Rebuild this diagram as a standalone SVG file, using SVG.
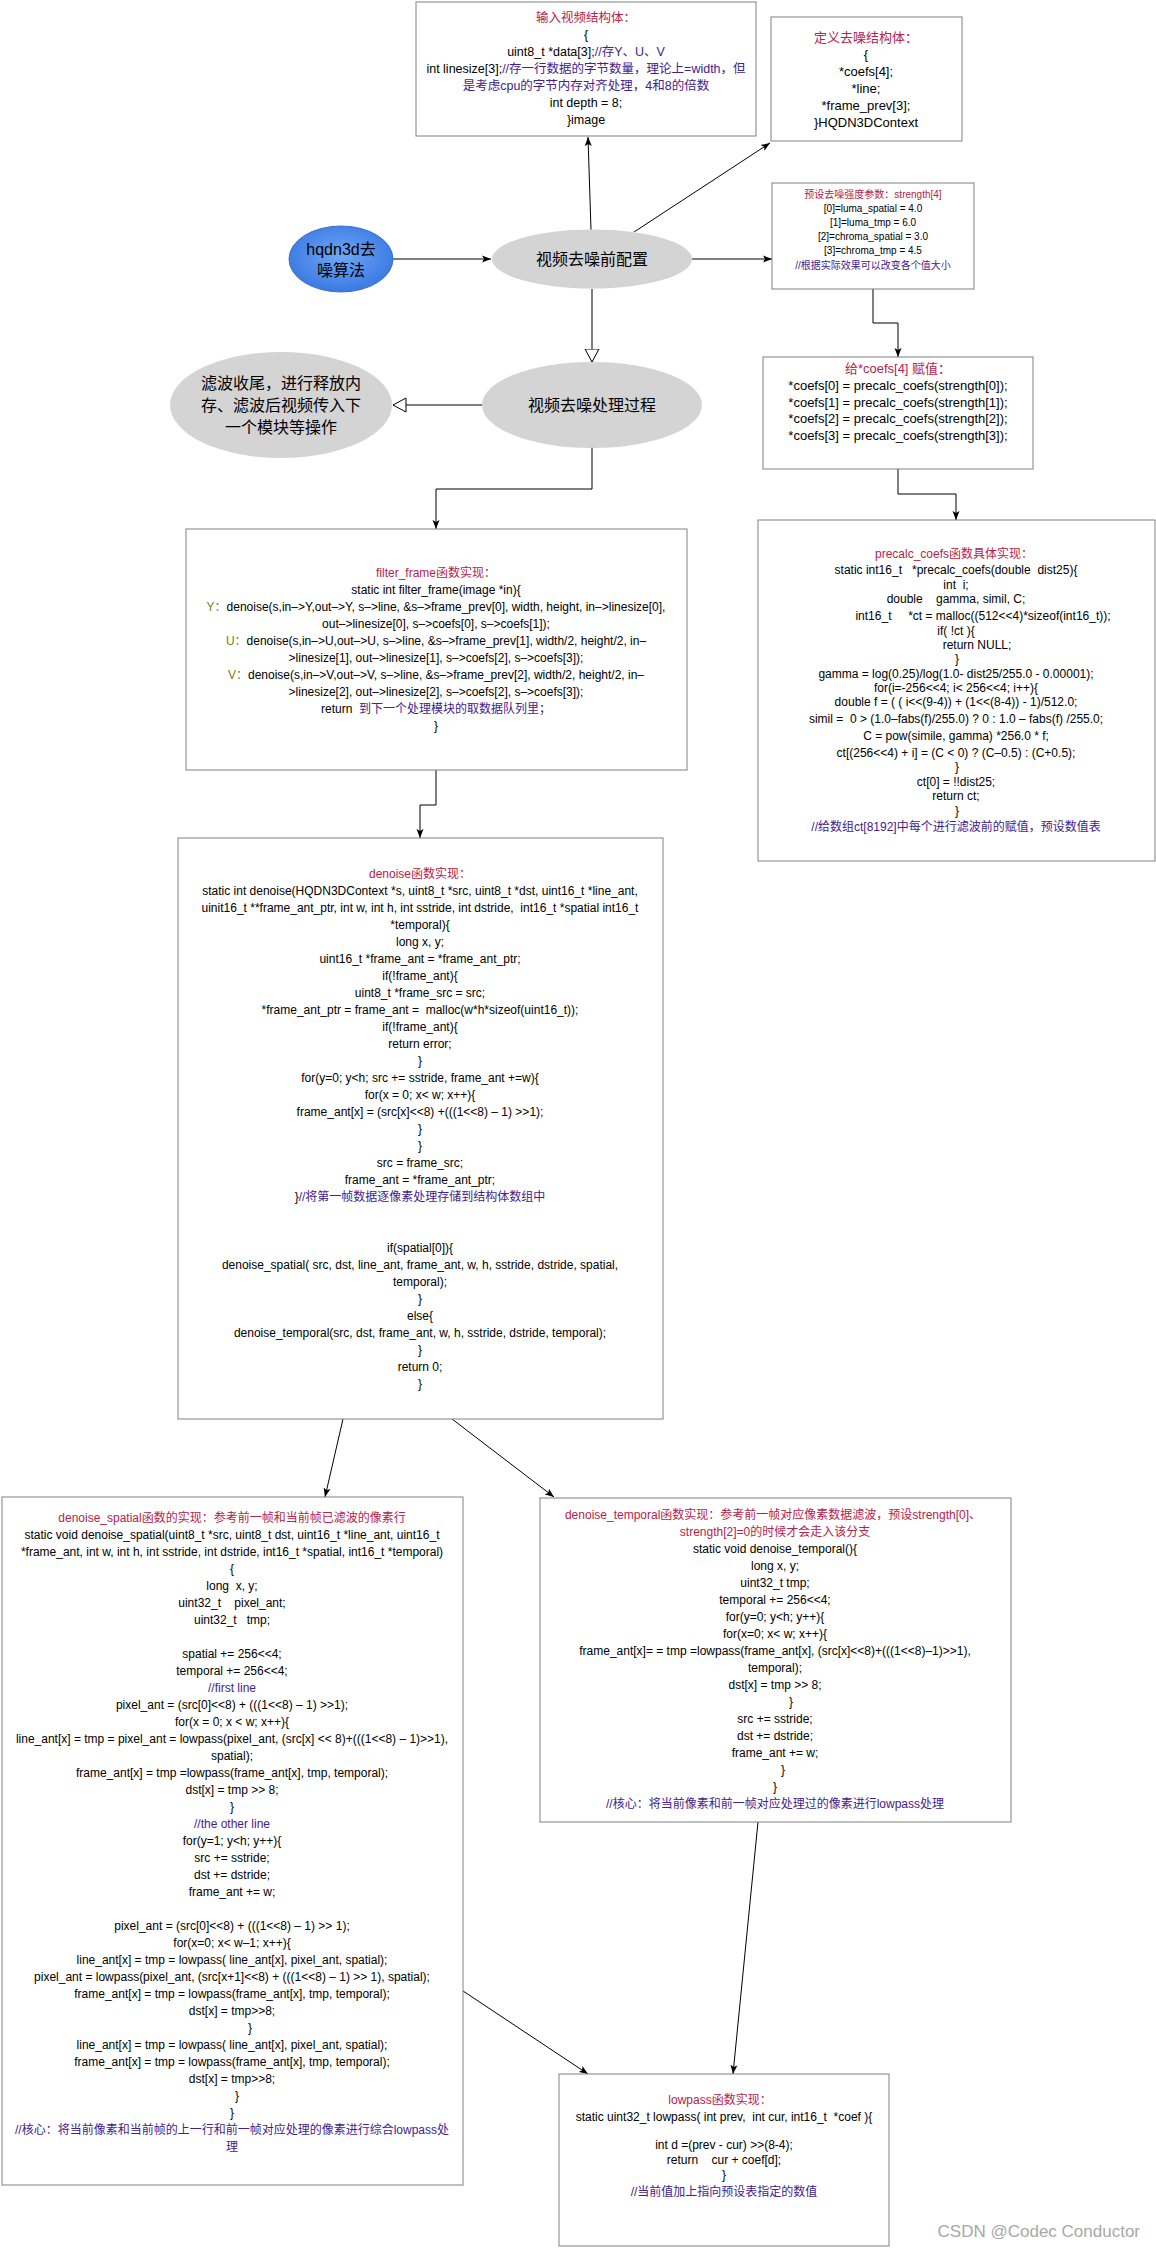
<svg xmlns="http://www.w3.org/2000/svg" width="1156" height="2248" viewBox="0 0 1156 2248">
<style>
.bg{fill:#fff}
.box{fill:#fff;stroke:#808080;stroke-width:1}
.ell{fill:#d4d4d4;stroke:none}
.t{font-family:"Liberation Sans","Noto Sans CJK SC",sans-serif;font-size:12px;text-anchor:middle;fill:#000;white-space:pre}
.s13{font-size:13px}
.s125{font-size:12.5px}
.s10{font-size:10px}
.big{font-size:16px}
.ti{fill:#b8214a}
.cm{fill:#43218f}
.ol{fill:#7b7b14}
.edge{stroke:#000;stroke-width:1;fill:none}
.wm{font-family:"Liberation Sans","Noto Sans",sans-serif;font-size:17px;fill:#a8a8a8;text-anchor:end}
</style>
<defs>
<marker id="arr" markerUnits="userSpaceOnUse" markerWidth="10" markerHeight="8" refX="9" refY="4" orient="auto">
<path d="M0,0.5 L9,4 L0,7.5 L2,4 z" fill="#000"/>
</marker>
<marker id="hol" markerUnits="userSpaceOnUse" markerWidth="16" markerHeight="16" refX="13.5" refY="7.5" orient="auto">
<path d="M0.5,0.5 L13.5,7.5 L0.5,14.5 z" fill="#fff" stroke="#000" stroke-width="1"/>
</marker>
<radialGradient id="blue" cx="50%" cy="45%" r="60%">
<stop offset="0" stop-color="#6ea8f7"/>
<stop offset="1" stop-color="#3675e0"/>
</radialGradient>
</defs>
<rect class="bg" x="0" y="0" width="1156" height="2248"/>

<g id="connectors">
<path class="edge" d="M393,259 L491,259" marker-end="url(#arr)"/>
<path class="edge" d="M591,230 L588,137" marker-end="url(#arr)"/>
<path class="edge" d="M634,232 L770,143" marker-end="url(#arr)"/>
<path class="edge" d="M692,259 L772,259" marker-end="url(#arr)"/>
<path class="edge" d="M873,289 V323 H898 V357" marker-end="url(#arr)"/>
<path class="edge" d="M592,289 V362" marker-end="url(#hol)"/>
<path class="edge" d="M482,405 H393" marker-end="url(#hol)"/>
<path class="edge" d="M592,448 V489 H436 V529" marker-end="url(#arr)"/>
<path class="edge" d="M898,469 V494 H956 V520" marker-end="url(#arr)"/>
<path class="edge" d="M436,770 V805 H420 V838" marker-end="url(#arr)"/>
<path class="edge" d="M343,1419 L325,1497" marker-end="url(#arr)"/>
<path class="edge" d="M452,1419 L554,1497" marker-end="url(#arr)"/>
<path class="edge" d="M758,1822 L733,2074" marker-end="url(#arr)"/>
<path class="edge" d="M463,1991 L588,2074" marker-end="url(#arr)"/>
</g>

<g id="input-struct">
<rect class="box" x="416" y="2" width="340" height="134"/>
<text class="t s125 ti" x="586" y="22">输入视频结构体：</text>
<text class="t s125" x="586" y="39">{</text>
<text class="t s125" x="586" y="56">uint8_t *data[3];<tspan class="cm">//存Y、U、V</tspan></text>
<text class="t s125" x="586" y="73">int linesize[3];<tspan class="cm">//存一行数据的字节数量，理论上=width，但</tspan></text>
<text class="t s125 cm" x="586" y="90">是考虑cpu的字节内存对齐处理，4和8的倍数</text>
<text class="t s125" x="586" y="107">int depth = 8;</text>
<text class="t s125" x="586" y="124">}image</text>
</g>

<g id="define-struct">
<rect class="box" x="771" y="17" width="191" height="124"/>
<text class="t s13 ti" x="866" y="42">定义去噪结构体：</text>
<text class="t s13" x="866" y="59">{</text>
<text class="t s13" x="866" y="76">*coefs[4];</text>
<text class="t s13" x="866" y="93">*line;</text>
<text class="t s13" x="866" y="110">*frame_prev[3];</text>
<text class="t s13" x="866" y="127">}HQDN3DContext</text>
</g>

<g id="hqdn3d">
<ellipse cx="341" cy="259" rx="52" ry="33" fill="url(#blue)" stroke="#3e6fcf" stroke-width="1"/>
<text class="t big" x="341" y="255" fill="#14204a">hqdn3d去</text>
<text class="t big" x="341" y="276" fill="#14204a">噪算法</text>
</g>

<g id="config">
<ellipse class="ell" cx="592" cy="259" rx="100" ry="29.5"/>
<text class="t big" x="592" y="265">视频去噪前配置</text>
</g>

<g id="strength">
<rect class="box" x="772" y="183" width="202" height="106"/>
<text class="t s10 ti" x="873" y="197.5">预设去噪强度参数：strength[4]</text>
<text class="t s10" x="873" y="212">[0]=luma_spatial = 4.0</text>
<text class="t s10" x="873" y="226">[1]=luma_tmp = 6.0</text>
<text class="t s10" x="873" y="240">[2]=chroma_spatial = 3.0</text>
<text class="t s10" x="873" y="254">[3]=chroma_tmp = 4.5</text>
<text class="t s10 cm" x="873" y="268.5">//根据实际效果可以改变各个值大小</text>
</g>

<g id="process">
<ellipse class="ell" cx="592" cy="405" rx="110" ry="43"/>
<text class="t big" x="592" y="411">视频去噪处理过程</text>
</g>

<g id="finish">
<ellipse class="ell" cx="281" cy="405" rx="111" ry="53"/>
<text class="t big" x="281" y="389">滤波收尾，进行释放内</text>
<text class="t big" x="281" y="411">存、滤波后视频传入下</text>
<text class="t big" x="281" y="433">一个模块等操作</text>
</g>

<g id="coefs">
<rect class="box" x="763" y="357" width="270" height="112"/>
<text class="t s13 ti" x="898" y="372.5">给*coefs[4] 赋值：</text>
<text class="t s13" x="898" y="389.5">*coefs[0] = precalc_coefs(strength[0]);</text>
<text class="t s13" x="898" y="406.5">*coefs[1] = precalc_coefs(strength[1]);</text>
<text class="t s13" x="898" y="423">*coefs[2] = precalc_coefs(strength[2]);</text>
<text class="t s13" x="898" y="440">*coefs[3] = precalc_coefs(strength[3]);</text>
</g>

<g id="filter-frame">
<rect class="box" x="186" y="529" width="501" height="241"/>
<text class="t ti" x="436" y="577">filter_frame函数实现：</text>
<text class="t" x="436" y="594">static int filter_frame(image *in){</text>
<text class="t" x="436" y="611"><tspan class="ol">Y：</tspan>denoise(s,in–&gt;Y,out–&gt;Y, s–&gt;line, &amp;s–&gt;frame_prev[0], width, height, in–&gt;linesize[0],</text>
<text class="t" x="436" y="628">out–&gt;linesize[0], s–&gt;coefs[0], s–&gt;coefs[1]);</text>
<text class="t" x="436" y="645"><tspan class="ol">U：</tspan>denoise(s,in–&gt;U,out–&gt;U, s–&gt;line, &amp;s–&gt;frame_prev[1], width/2, height/2, in–</text>
<text class="t" x="436" y="662">&gt;linesize[1], out–&gt;linesize[1], s–&gt;coefs[2], s–&gt;coefs[3]);</text>
<text class="t" x="436" y="679"><tspan class="ol">V：</tspan>denoise(s,in–&gt;V,out–&gt;V, s–&gt;line, &amp;s–&gt;frame_prev[2], width/2, height/2, in–</text>
<text class="t" x="436" y="696">&gt;linesize[2], out–&gt;linesize[2], s–&gt;coefs[2], s–&gt;coefs[3]);</text>
<text class="t" x="436" y="713">return  <tspan class="cm">到下一个处理模块的取数据队列里；</tspan></text>
<text class="t" x="436" y="730">}</text>
</g>

<g id="precalc">
<rect class="box" x="758" y="520" width="397" height="341"/>
<text class="t ti" x="954" y="558">precalc_coefs函数具体实现：</text>
<text class="t" x="956" y="574">static int16_t   *precalc_coefs(double  dist25){</text>
<text class="t" x="956" y="589">int  i;</text>
<text class="t" x="956" y="603">double    gamma, simil, C;</text>
<text class="t" x="983" y="620">int16_t     *ct = malloc((512&lt;&lt;4)*sizeof(int16_t));</text>
<text class="t" x="956" y="635">if( !ct ){</text>
<text class="t" x="977" y="649">return NULL;</text>
<text class="t" x="957" y="663">}</text>
<text class="t" x="956" y="678">gamma = log(0.25)/log(1.0- dist25/255.0 - 0.00001);</text>
<text class="t" x="956" y="692">for(i=-256&lt;&lt;4; i&lt; 256&lt;&lt;4; i++){</text>
<text class="t" x="956" y="706">double f = ( ( i&lt;&lt;(9-4)) + (1&lt;&lt;(8-4)) - 1)/512.0;</text>
<text class="t" x="956" y="723">simil =  0 &gt; (1.0–fabs(f)/255.0) ? 0 : 1.0 – fabs(f) /255.0;</text>
<text class="t" x="956" y="740">C = pow(simile, gamma) *256.0 * f;</text>
<text class="t" x="956" y="757">ct[(256&lt;&lt;4) + i] = (C &lt; 0) ? (C–0.5) : (C+0.5);</text>
<text class="t" x="957" y="771">}</text>
<text class="t" x="956" y="786">ct[0] = !!dist25;</text>
<text class="t" x="956" y="800">return ct;</text>
<text class="t" x="957" y="815">}</text>
<text class="t cm" x="956" y="831">//给数组ct[8192]中每个进行滤波前的赋值，预设数值表</text>
</g>

<g id="denoise">
<rect class="box" x="178" y="838" width="485" height="581"/>
<text class="t ti" x="420" y="878">denoise函数实现：</text>
<text class="t" x="420" y="895">static int denoise(HQDN3DContext *s, uint8_t *src, uint8_t *dst, uint16_t *line_ant,</text>
<text class="t" x="420" y="912">uinit16_t **frame_ant_ptr, int w, int h, int sstride, int dstride,  int16_t *spatial int16_t</text>
<text class="t" x="420" y="929">*temporal){</text>
<text class="t" x="420" y="946">long x, y;</text>
<text class="t" x="420" y="963">uint16_t *frame_ant = *frame_ant_ptr;</text>
<text class="t" x="420" y="980">if(!frame_ant){</text>
<text class="t" x="420" y="997">uint8_t *frame_src = src;</text>
<text class="t" x="420" y="1014">*frame_ant_ptr = frame_ant =  malloc(w*h*sizeof(uint16_t));</text>
<text class="t" x="420" y="1031">if(!frame_ant){</text>
<text class="t" x="420" y="1048">return error;</text>
<text class="t" x="420" y="1065">}</text>
<text class="t" x="420" y="1082">for(y=0; y&lt;h; src += sstride, frame_ant +=w){</text>
<text class="t" x="420" y="1099">for(x = 0; x&lt; w; x++){</text>
<text class="t" x="420" y="1116">frame_ant[x] = (src[x]&lt;&lt;8) +(((1&lt;&lt;8) – 1) &gt;&gt;1);</text>
<text class="t" x="420" y="1133">}</text>
<text class="t" x="420" y="1150">}</text>
<text class="t" x="420" y="1167">src = frame_src;</text>
<text class="t" x="420" y="1184">frame_ant = *frame_ant_ptr;</text>
<text class="t" x="420" y="1201">}<tspan class="cm">//将第一帧数据逐像素处理存储到结构体数组中</tspan></text>
<text class="t" x="420" y="1252">if(spatial[0]){</text>
<text class="t" x="420" y="1269">denoise_spatial( src, dst, line_ant, frame_ant, w, h, sstride, dstride, spatial,</text>
<text class="t" x="420" y="1286">temporal);</text>
<text class="t" x="420" y="1303">}</text>
<text class="t" x="420" y="1320">else{</text>
<text class="t" x="420" y="1337">denoise_temporal(src, dst, frame_ant, w, h, sstride, dstride, temporal);</text>
<text class="t" x="420" y="1354">}</text>
<text class="t" x="420" y="1371">return 0;</text>
<text class="t" x="420" y="1388">}</text>
</g>

<g id="denoise-spatial">
<rect class="box" x="2" y="1497" width="461" height="688"/>
<text class="t ti" x="232" y="1522">denoise_spatial函数的实现：参考前一帧和当前帧已滤波的像素行</text>
<text class="t" x="232" y="1539">static void denoise_spatial(uint8_t *src, uint8_t dst, uint16_t *line_ant, uint16_t</text>
<text class="t" x="232" y="1556">*frame_ant, int w, int h, int sstride, int dstride, int16_t *spatial, int16_t *temporal)</text>
<text class="t" x="232" y="1573">{</text>
<text class="t" x="232" y="1590">long  x, y;</text>
<text class="t" x="232" y="1607">uint32_t    pixel_ant;</text>
<text class="t" x="232" y="1624">uint32_t   tmp;</text>
<text class="t" x="232" y="1658">spatial += 256&lt;&lt;4;</text>
<text class="t" x="232" y="1675">temporal += 256&lt;&lt;4;</text>
<text class="t cm" x="232" y="1692">//first line</text>
<text class="t" x="232" y="1709">pixel_ant = (src[0]&lt;&lt;8) + (((1&lt;&lt;8) – 1) &gt;&gt;1);</text>
<text class="t" x="232" y="1726">for(x = 0; x &lt; w; x++){</text>
<text class="t" x="232" y="1743">line_ant[x] = tmp = pixel_ant = lowpass(pixel_ant, (src[x] &lt;&lt; 8)+(((1&lt;&lt;8) – 1)&gt;&gt;1),</text>
<text class="t" x="232" y="1760">spatial);</text>
<text class="t" x="232" y="1777">frame_ant[x] = tmp =lowpass(frame_ant[x], tmp, temporal);</text>
<text class="t" x="232" y="1794">dst[x] = tmp &gt;&gt; 8;</text>
<text class="t" x="232" y="1811">}</text>
<text class="t cm" x="232" y="1828">//the other line</text>
<text class="t" x="232" y="1845">for(y=1; y&lt;h; y++){</text>
<text class="t" x="232" y="1862">src += sstride;</text>
<text class="t" x="232" y="1879">dst += dstride;</text>
<text class="t" x="232" y="1896">frame_ant += w;</text>
<text class="t" x="232" y="1930">pixel_ant = (src[0]&lt;&lt;8) + (((1&lt;&lt;8) – 1) &gt;&gt; 1);</text>
<text class="t" x="232" y="1947">for(x=0; x&lt; w–1; x++){</text>
<text class="t" x="232" y="1964">line_ant[x] = tmp = lowpass( line_ant[x], pixel_ant, spatial);</text>
<text class="t" x="232" y="1981">pixel_ant = lowpass(pixel_ant, (src[x+1]&lt;&lt;8) + (((1&lt;&lt;8) – 1) &gt;&gt; 1), spatial);</text>
<text class="t" x="232" y="1998">frame_ant[x] = tmp = lowpass(frame_ant[x], tmp, temporal);</text>
<text class="t" x="232" y="2015">dst[x] = tmp&gt;&gt;8;</text>
<text class="t" x="250" y="2032">}</text>
<text class="t" x="232" y="2049">line_ant[x] = tmp = lowpass( line_ant[x], pixel_ant, spatial);</text>
<text class="t" x="232" y="2066">frame_ant[x] = tmp = lowpass(frame_ant[x], tmp, temporal);</text>
<text class="t" x="232" y="2083">dst[x] = tmp&gt;&gt;8;</text>
<text class="t" x="237" y="2100">}</text>
<text class="t" x="232" y="2117">}</text>
<text class="t cm" x="232" y="2134">//核心：将当前像素和当前帧的上一行和前一帧对应处理的像素进行综合lowpass处</text>
<text class="t cm" x="232" y="2151">理</text>
</g>

<g id="denoise-temporal">
<rect class="box" x="540" y="1498" width="471" height="324"/>
<text class="t ti" x="773" y="1519">denoise_temporal函数实现：参考前一帧对应像素数据滤波，预设strength[0]、</text>
<text class="t ti" x="775" y="1536">strength[2]=0的时候才会走入该分支</text>
<text class="t" x="775" y="1553">static void denoise_temporal(){</text>
<text class="t" x="775" y="1570">long x, y;</text>
<text class="t" x="775" y="1587">uint32_t tmp;</text>
<text class="t" x="775" y="1604">temporal += 256&lt;&lt;4;</text>
<text class="t" x="775" y="1621">for(y=0; y&lt;h; y++){</text>
<text class="t" x="775" y="1638">for(x=0; x&lt; w; x++){</text>
<text class="t" x="775" y="1655">frame_ant[x]= = tmp =lowpass(frame_ant[x], (src[x]&lt;&lt;8)+(((1&lt;&lt;8)–1)&gt;&gt;1),</text>
<text class="t" x="775" y="1672">temporal);</text>
<text class="t" x="775" y="1689">dst[x] = tmp &gt;&gt; 8;</text>
<text class="t" x="791" y="1706">}</text>
<text class="t" x="775" y="1723">src += sstride;</text>
<text class="t" x="775" y="1740">dst += dstride;</text>
<text class="t" x="775" y="1757">frame_ant += w;</text>
<text class="t" x="783" y="1774">}</text>
<text class="t" x="775" y="1791">}</text>
<text class="t cm" x="775" y="1808">//核心：将当前像素和前一帧对应处理过的像素进行lowpass处理</text>
</g>

<g id="lowpass">
<rect class="box" x="559" y="2074" width="330" height="172"/>
<text class="t ti" x="720" y="2104">lowpass函数实现：</text>
<text class="t" x="724" y="2121">static uint32_t lowpass( int prev,  int cur, int16_t  *coef ){</text>
<text class="t" x="724" y="2149">int d =(prev - cur) &gt;&gt;(8-4);</text>
<text class="t" x="724" y="2164">return    cur + coef[d];</text>
<text class="t" x="724" y="2179">}</text>
<text class="t cm" x="724" y="2196">//当前值加上指向预设表指定的数值</text>
</g>

<text class="wm" x="1140" y="2237">CSDN @Codec Conductor</text>
</svg>
